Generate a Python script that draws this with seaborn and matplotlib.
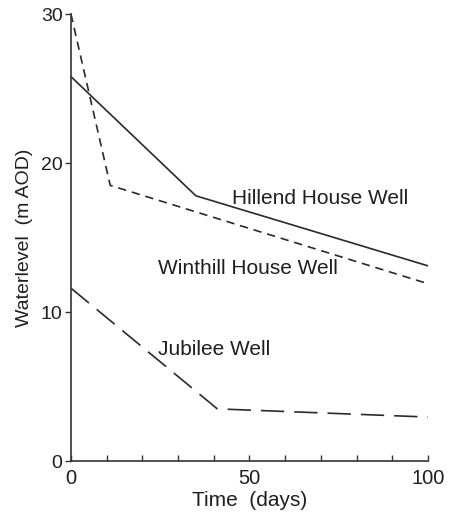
import pandas as pd
import matplotlib.pyplot as plt
import seaborn as sns
from matplotlib.ticker import MultipleLocator

# Water level data
hillend_days = [0, 35, 100]
hillend_level = [25.8, 17.8, 13.1]

winthill_days = [0, 11, 100]
winthill_level = [30.0, 18.5, 11.9]

jubilee_days = [0, 41, 100]
jubilee_level = [11.6, 3.5, 2.95]

sns.set_style("ticks")
plt.rcParams['font.family'] = ['Liberation Sans', 'DejaVu Sans']

fig = plt.figure(figsize=(4.49, 5.12), dpi=100)
ax = fig.add_axes([0.158, 0.0996, 0.795, 0.873])

lw = 1.2
ink = '#1e1e1e'
sns.lineplot(x=hillend_days, y=hillend_level, ax=ax, color='#2a2a2a', lw=lw)
sns.lineplot(x=winthill_days, y=winthill_level, ax=ax, color='#2a2a2a', lw=lw,
             dashes=False, linestyle=(0, (5, 3.5)))
sns.lineplot(x=jubilee_days, y=jubilee_level, ax=ax, color='#2a2a2a', lw=lw,
             dashes=False, linestyle=(0, (14, 6)))

fs = 15
ax.text(45, 17.6, 'Hillend House Well', fontsize=fs, va='center', color=ink)
ax.text(24.4, 12.9, 'Winthill House Well', fontsize=fs, va='center', color=ink)
ax.text(24.4, 7.5, 'Jubilee Well', fontsize=fs, va='center', color=ink)

ax.set_xlim(0, 100)
ax.set_ylim(0, 30)
ax.xaxis.set_major_locator(MultipleLocator(50))
ax.xaxis.set_minor_locator(MultipleLocator(10))
ax.yaxis.set_major_locator(MultipleLocator(10))
ax.tick_params(axis='x', which='both', direction='in', length=4, width=1, labelsize=14.5, pad=6, colors='#333333')
ax.tick_params(axis='y', direction='out', length=4, width=1, labelsize=14, pad=2, colors='#333333')
for lab in ax.get_xticklabels() + ax.get_yticklabels():
    lab.set_color(ink)

sns.despine(ax=ax)
for s in ['left', 'bottom']:
    ax.spines[s].set_linewidth(1.2)
    ax.spines[s].set_color('#333333')

ax.set_xlabel('Time  (days)', fontsize=15, color=ink, labelpad=2)
ax.set_ylabel('Waterlevel  (m AOD)', fontsize=14, color=ink, labelpad=6)

fig.savefig('out.png', dpi=100)
